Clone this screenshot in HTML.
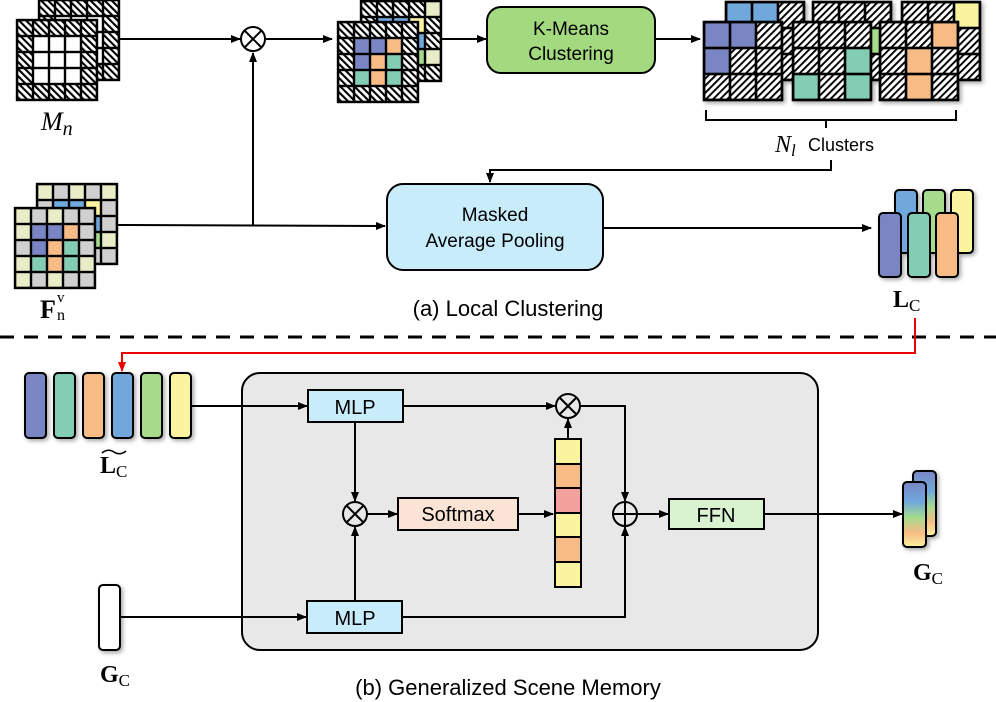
<!DOCTYPE html>
<html><head><meta charset="utf-8"><style>
html,body{margin:0;padding:0;background:#fff;}
svg{display:block;}
text{font-family:"Liberation Sans",sans-serif;}
.m{font-family:"Liberation Serif",serif;}
</style></head><body>
<svg width="996" height="702" viewBox="0 0 996 702" xmlns="http://www.w3.org/2000/svg">
<defs>
<pattern id="hb" width="5" height="5" patternUnits="userSpaceOnUse" patternTransform="rotate(-45)">
<rect width="5" height="5" fill="#fff"/><rect width="2.1" height="5" fill="#000"/></pattern>
<pattern id="hf" width="5" height="5" patternUnits="userSpaceOnUse" patternTransform="rotate(45)">
<rect width="5" height="5" fill="#fff"/><rect width="1.9" height="5" fill="#000"/></pattern>
<pattern id="g16" width="16" height="16" patternUnits="userSpaceOnUse"><rect x="0" y="0" width="16" height="16" fill="none" stroke="#000" stroke-width="2.4"/></pattern>
<pattern id="g26" width="26" height="26" patternUnits="userSpaceOnUse"><rect x="0" y="0" width="26" height="26" fill="none" stroke="#000" stroke-width="2.6"/></pattern>
<marker id="ar" markerWidth="10" markerHeight="8" refX="9" refY="4" orient="auto" markerUnits="userSpaceOnUse"><path d="M0,0 L10,4 L0,8 Z" fill="#000"/></marker>
<marker id="arr" markerWidth="10" markerHeight="8" refX="9" refY="4" orient="auto" markerUnits="userSpaceOnUse"><path d="M0,0 L10,4 L0,8 Z" fill="#e00"/></marker>
<filter id="sh" x="-20%" y="-20%" width="150%" height="150%"><feDropShadow dx="2" dy="2" stdDeviation="2" flood-opacity="0.35"/></filter>
<linearGradient id="gr" x1="0" y1="0" x2="0" y2="1"><stop offset="0" stop-color="#7a86c4"/><stop offset="0.3" stop-color="#6fa8dc"/><stop offset="0.55" stop-color="#a6db8c"/><stop offset="0.78" stop-color="#f7bb85"/><stop offset="1" stop-color="#fbf49e"/></linearGradient>
</defs>

<!-- Mn -->
<g transform="translate(39,0)"><rect width="80" height="80" fill="url(#hb)"/><rect x="16" y="16" width="48" height="48" fill="#fff"/><rect width="80" height="80" fill="url(#g16)"/><rect width="80" height="80" fill="none" stroke="#000" stroke-width="2.4"/></g>
<g transform="translate(17,20)"><rect width="80" height="80" fill="url(#hb)"/><rect x="16" y="16" width="48" height="48" fill="#fff"/><rect width="80" height="80" fill="url(#g16)"/><rect width="80" height="80" fill="none" stroke="#000" stroke-width="2.4"/></g>
<text x="41" y="130" class="m" font-size="26" font-style="italic">M<tspan font-size="20" dy="5">n</tspan></text>

<!-- masked features -->
<g transform="translate(361,1)"><rect width="80" height="80" fill="url(#hb)"/>
<rect x="16" y="16" width="16" height="16" fill="#6fa8dc"/><rect x="32" y="16" width="16" height="16" fill="#6fa8dc"/><rect x="48" y="16" width="16" height="16" fill="#fbf49e"/><rect x="64" y="0" width="16" height="16" fill="#e8edc7"/><rect x="48" y="32" width="16" height="16" fill="#6fa8dc"/><rect x="48" y="48" width="16" height="16" fill="#a6db8c"/><rect x="64" y="48" width="16" height="16" fill="#e8edc7"/>
<rect width="80" height="80" fill="url(#g16)"/><rect width="80" height="80" fill="none" stroke="#000" stroke-width="2.4"/></g>
<g transform="translate(338,22)"><rect width="80" height="80" fill="url(#hb)"/>
<rect x="16" y="16" width="16" height="16" fill="#7a86c4"/><rect x="32" y="16" width="16" height="16" fill="#7a86c4"/><rect x="48" y="16" width="16" height="16" fill="#f7bb85"/>
<rect x="16" y="32" width="16" height="16" fill="#7a86c4"/><rect x="32" y="32" width="16" height="16" fill="#f7bb85"/><rect x="48" y="32" width="16" height="16" fill="#82cdb3"/>
<rect x="16" y="48" width="16" height="16" fill="#82cdb3"/><rect x="32" y="48" width="16" height="16" fill="#f7bb85"/><rect x="48" y="48" width="16" height="16" fill="#82cdb3"/>
<rect width="80" height="80" fill="url(#g16)"/><rect width="80" height="80" fill="none" stroke="#000" stroke-width="2.4"/></g>

<!-- F grid -->
<g transform="translate(37,184)"><rect width="80" height="80" fill="#d0d0d0"/>
<rect x="0" y="0" width="16" height="16" fill="#e8edc7"/><rect x="32" y="0" width="16" height="16" fill="#e8edc7"/><rect x="64" y="0" width="16" height="16" fill="#e8edc7"/>
<rect x="16" y="16" width="32" height="16" fill="#6fa8dc"/><rect x="48" y="16" width="16" height="16" fill="#fbf49e"/><rect x="48" y="32" width="16" height="16" fill="#6fa8dc"/><rect x="48" y="48" width="16" height="16" fill="#a6db8c"/><rect x="64" y="48" width="16" height="16" fill="#e8edc7"/>
<rect width="80" height="80" fill="url(#g16)"/><rect width="80" height="80" fill="none" stroke="#000" stroke-width="2.4"/></g>
<g transform="translate(15,208)"><rect width="80" height="80" fill="#d0d0d0"/>
<rect x="0" y="0" width="16" height="16" fill="#e8edc7"/><rect x="32" y="0" width="16" height="16" fill="#e8edc7"/>
<rect x="0" y="16" width="16" height="16" fill="#e8edc7"/><rect x="16" y="16" width="16" height="16" fill="#7a86c4"/><rect x="32" y="16" width="16" height="16" fill="#7a86c4"/><rect x="48" y="16" width="16" height="16" fill="#f7bb85"/>
<rect x="16" y="32" width="16" height="16" fill="#7a86c4"/><rect x="32" y="32" width="16" height="16" fill="#f7bb85"/><rect x="48" y="32" width="16" height="16" fill="#82cdb3"/>
<rect x="0" y="48" width="16" height="16" fill="#e8edc7"/><rect x="16" y="48" width="16" height="16" fill="#82cdb3"/><rect x="32" y="48" width="16" height="16" fill="#f7bb85"/><rect x="48" y="48" width="16" height="16" fill="#82cdb3"/><rect x="64" y="48" width="16" height="16" fill="#e8edc7"/>
<rect x="0" y="64" width="16" height="16" fill="#e8edc7"/><rect x="32" y="64" width="16" height="16" fill="#e8edc7"/>
<rect width="80" height="80" fill="url(#g16)"/><rect width="80" height="80" fill="none" stroke="#000" stroke-width="2.4"/></g>
<text x="40" y="318" class="m" font-size="26" font-weight="bold">F</text><text x="57" y="302" class="m" font-size="15">v</text><text x="57" y="320" class="m" font-size="16">n</text>

<!-- top connectors -->
<g stroke="#000" stroke-width="2" fill="none">
<line x1="118" y1="39" x2="240" y2="39" marker-end="url(#ar)"/>
<line x1="266" y1="39" x2="332" y2="39" marker-end="url(#ar)"/>
<line x1="441" y1="39" x2="486" y2="39" marker-end="url(#ar)"/>
<line x1="655" y1="39" x2="700" y2="39" marker-end="url(#ar)"/>
<line x1="116" y1="225" x2="385" y2="226" marker-end="url(#ar)"/>
<line x1="253" y1="225" x2="253" y2="53" marker-end="url(#ar)"/>
<polyline points="831,160 831,170 490,170 490,182" marker-end="url(#ar)"/>
<line x1="603" y1="228" x2="871" y2="228" marker-end="url(#ar)"/>
<circle cx="253" cy="39" r="12" stroke-width="2"/>
<line x1="244.5" y1="30.5" x2="261.5" y2="47.5"/><line x1="261.5" y1="30.5" x2="244.5" y2="47.5"/>
<path d="M706,110 v10 H826 v8 M826,120 H956 v-10" stroke-width="2"/>
</g>

<rect x="487" y="7" width="168" height="66" rx="14" fill="#a3d97f" stroke="#000" stroke-width="2"/>
<text x="571" y="35" font-size="19" text-anchor="middle">K-Means</text>
<text x="571" y="60" font-size="19" text-anchor="middle">Clustering</text>

<!-- clusters -->
<g filter="url(#sh)">
<g transform="translate(726,2)"><rect width="78" height="78" fill="url(#hf)"/><rect x="0" y="0" width="52" height="26" fill="#6fa8dc"/><rect x="0" y="26" width="26" height="26" fill="#6fa8dc"/><rect width="78" height="78" fill="url(#g26)"/><rect width="78" height="78" fill="none" stroke="#000" stroke-width="2.6"/></g>
<g transform="translate(704,22)"><rect width="78" height="78" fill="url(#hf)"/><rect x="0" y="0" width="52" height="26" fill="#7a86c4"/><rect x="0" y="26" width="26" height="26" fill="#7a86c4"/><rect width="78" height="78" fill="url(#g26)"/><rect width="78" height="78" fill="none" stroke="#000" stroke-width="2.6"/></g>
<g transform="translate(813,2)"><rect width="78" height="78" fill="url(#hf)"/><rect x="52" y="26" width="26" height="26" fill="#a6db8c"/><rect width="78" height="78" fill="url(#g26)"/><rect width="78" height="78" fill="none" stroke="#000" stroke-width="2.6"/></g>
<g transform="translate(793,22)"><rect width="78" height="78" fill="url(#hf)"/><rect x="52" y="26" width="26" height="26" fill="#82cdb3"/><rect x="0" y="52" width="26" height="26" fill="#82cdb3"/><rect x="52" y="52" width="26" height="26" fill="#82cdb3"/><rect width="78" height="78" fill="url(#g26)"/><rect width="78" height="78" fill="none" stroke="#000" stroke-width="2.6"/></g>
<g transform="translate(902,2)"><rect width="78" height="78" fill="url(#hf)"/><rect x="52" y="0" width="26" height="26" fill="#fbf49e"/><rect width="78" height="78" fill="url(#g26)"/><rect width="78" height="78" fill="none" stroke="#000" stroke-width="2.6"/></g>
<g transform="translate(880,22)"><rect width="78" height="78" fill="url(#hf)"/><rect x="52" y="0" width="26" height="26" fill="#f7bb85"/><rect x="26" y="26" width="26" height="26" fill="#f7bb85"/><rect x="26" y="52" width="26" height="26" fill="#f7bb85"/><rect width="78" height="78" fill="url(#g26)"/><rect width="78" height="78" fill="none" stroke="#000" stroke-width="2.6"/></g>
</g>
<text x="775" y="152" class="m" font-size="24" font-style="italic">N<tspan font-size="17" dy="4">l</tspan></text>
<text x="808" y="151" font-size="18">Clusters</text>

<rect x="387" y="184" width="216" height="86" rx="16" fill="#c9ecfb" stroke="#000" stroke-width="2"/>
<text x="495" y="221" font-size="19" text-anchor="middle">Masked</text>
<text x="495" y="247" font-size="19" text-anchor="middle">Average Pooling</text>

<!-- Lc bars -->
<g stroke="#000" stroke-width="2" filter="url(#sh)">
<rect x="895" y="190" width="22" height="63" rx="4" fill="#6fa8dc"/>
<rect x="923" y="190" width="22" height="63" rx="4" fill="#a6db8c"/>
<rect x="951" y="190" width="22" height="63" rx="4" fill="#fbf49e"/>
<rect x="879" y="213" width="22" height="64" rx="4" fill="#7a86c4"/>
<rect x="908" y="213" width="22" height="64" rx="4" fill="#82cdb3"/>
<rect x="936" y="213" width="22" height="64" rx="4" fill="#f7bb85"/>
</g>
<text x="893" y="307" class="m" font-size="24" font-weight="bold">L<tspan font-size="17" font-weight="normal" dy="4">C</tspan></text>
<text x="508" y="316" font-size="22" text-anchor="middle">(a) Local Clustering</text>

<line x1="0" y1="337" x2="996" y2="337" stroke="#000" stroke-width="3" stroke-dasharray="14,10"/>
<polyline points="915,318 915,353 122,353 122,371" fill="none" stroke="#e00" stroke-width="2" marker-end="url(#arr)"/>

<!-- bottom -->
<rect x="242" y="373" width="576" height="277" rx="18" fill="#e8e8e8" stroke="#000" stroke-width="2"/>
<g stroke="#000" stroke-width="2" filter="url(#sh)">
<rect x="25" y="373" width="21" height="65" rx="4" fill="#7a86c4"/>
<rect x="54" y="373" width="21" height="65" rx="4" fill="#82cdb3"/>
<rect x="83" y="373" width="21" height="65" rx="4" fill="#f7bb85"/>
<rect x="112" y="373" width="21" height="65" rx="4" fill="#6fa8dc"/>
<rect x="141" y="373" width="21" height="65" rx="4" fill="#a6db8c"/>
<rect x="170" y="373" width="21" height="65" rx="4" fill="#fbf49e"/>
<rect x="99" y="585" width="21" height="65" rx="4" fill="#fff"/>
<rect x="913" y="471" width="23" height="65" rx="4" fill="url(#gr)"/>
<rect x="903" y="482" width="23" height="65" rx="4" fill="url(#gr)"/>
</g>
<text x="100" y="473" class="m" font-size="24" font-weight="bold">L<tspan font-size="17" font-weight="normal" dy="4">C</tspan></text>
<path d="M102,453 q6,-5 12,-1 t12,-1" fill="none" stroke="#000" stroke-width="1.5"/>
<text x="100" y="682" class="m" font-size="24" font-weight="bold">G<tspan font-size="17" font-weight="normal" dy="4">C</tspan></text>
<text x="913" y="580" class="m" font-size="24" font-weight="bold">G<tspan font-size="17" font-weight="normal" dy="4">C</tspan></text>

<g stroke="#000" stroke-width="2" fill="none">
<line x1="191" y1="406" x2="307" y2="406" marker-end="url(#ar)"/>
<line x1="120" y1="617" x2="306" y2="617" marker-end="url(#ar)"/>
<line x1="403" y1="406" x2="555" y2="406" marker-end="url(#ar)"/>
<line x1="355" y1="422" x2="355" y2="501" marker-end="url(#ar)"/>
<line x1="355" y1="601" x2="355" y2="527" marker-end="url(#ar)"/>
<line x1="367" y1="514" x2="397" y2="514" marker-end="url(#ar)"/>
<line x1="518" y1="514" x2="553" y2="514" marker-end="url(#ar)"/>
<line x1="568" y1="438" x2="568" y2="419" marker-end="url(#ar)"/>
<polyline points="580,406 625,406 625,501" marker-end="url(#ar)"/>
<polyline points="402,617 625,617 625,527" marker-end="url(#ar)"/>
<line x1="637" y1="514" x2="668" y2="514" marker-end="url(#ar)"/>
<line x1="764" y1="514" x2="902" y2="514" marker-end="url(#ar)"/>
<circle cx="355" cy="514" r="12"/><line x1="346.5" y1="505.5" x2="363.5" y2="522.5"/><line x1="363.5" y1="505.5" x2="346.5" y2="522.5"/>
<circle cx="568" cy="406" r="12"/><line x1="559.5" y1="397.5" x2="576.5" y2="414.5"/><line x1="576.5" y1="397.5" x2="559.5" y2="414.5"/>
<circle cx="625" cy="514" r="12"/><line x1="613" y1="514" x2="637" y2="514"/><line x1="625" y1="502" x2="625" y2="526"/>
</g>
<rect x="308" y="390" width="95" height="32" fill="#c9ecfb" stroke="#000" stroke-width="2"/>
<text x="355" y="414" font-size="20" text-anchor="middle">MLP</text>
<rect x="307" y="601" width="95" height="32" fill="#c9ecfb" stroke="#000" stroke-width="2"/>
<text x="355" y="625" font-size="20" text-anchor="middle">MLP</text>
<rect x="398" y="498" width="120" height="32" fill="#fbe3d6" stroke="#000" stroke-width="2"/>
<text x="458" y="521" font-size="20" text-anchor="middle">Softmax</text>
<rect x="669" y="499" width="95" height="30" fill="#d9f2d0" stroke="#000" stroke-width="2"/>
<text x="716" y="522" font-size="20" text-anchor="middle">FFN</text>
<g stroke="#000" stroke-width="2">
<rect x="555" y="439" width="26" height="25" fill="#fbf49e"/>
<rect x="555" y="464" width="26" height="24" fill="#f7bb85"/>
<rect x="555" y="488" width="26" height="25" fill="#f4a09c"/>
<rect x="555" y="513" width="26" height="24" fill="#fbf49e"/>
<rect x="555" y="537" width="26" height="25" fill="#f7bb85"/>
<rect x="555" y="562" width="26" height="25" fill="#fbf49e"/>
</g>
<text x="508" y="695" font-size="22" text-anchor="middle">(b) Generalized Scene Memory</text>
</svg>
</body></html>
